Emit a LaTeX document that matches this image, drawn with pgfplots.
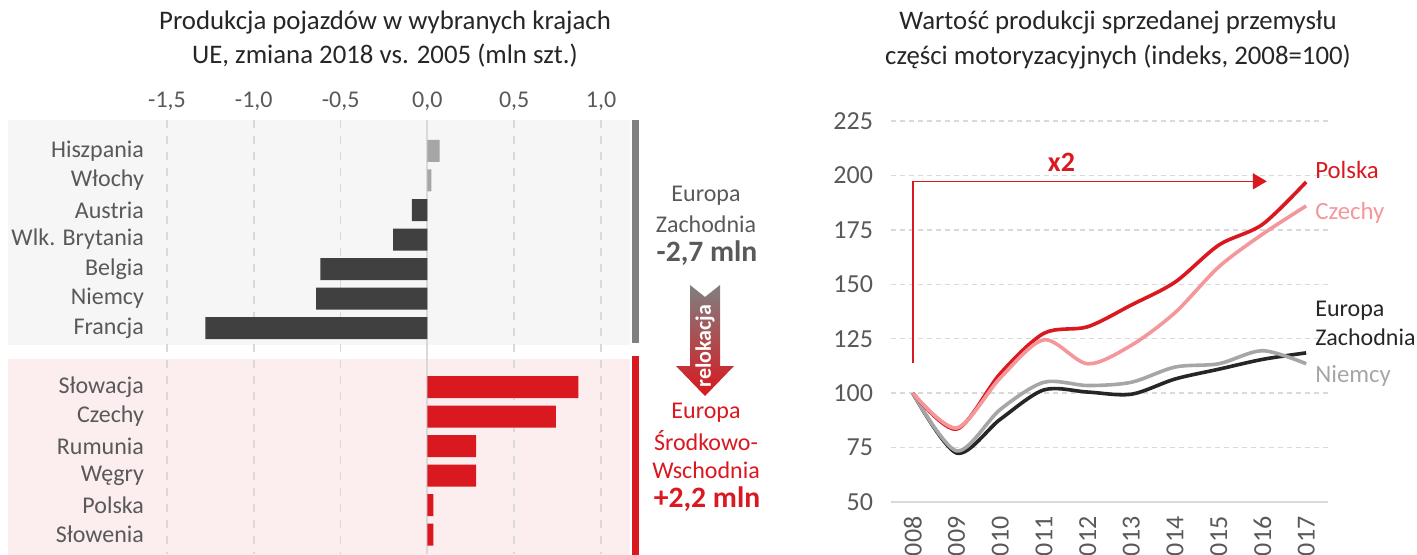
\documentclass[border=0pt]{standalone}
\usepackage{pgfplots}
\pgfplotsset{compat=1.18}
\usepackage{fontspec}
\setmainfont{Carlito}
\usetikzlibrary{arrows.meta}
\definecolor{cred}{HTML}{D9181F}
\definecolor{cpink}{HTML}{F4979B}
\definecolor{cdark}{HTML}{404040}
\definecolor{cgray}{HTML}{A6A6A6}
\definecolor{ctxt}{HTML}{595959}
\definecolor{cgrid}{HTML}{D9D9D9}
\definecolor{cbgg}{HTML}{F6F6F6}
\definecolor{cbgr}{HTML}{FCEEEE}
\definecolor{cbar}{HTML}{808080}
\definecolor{cblack}{HTML}{262626}
\begin{document}
\begin{tikzpicture}[font=\fontsize{12}{14.4}\selectfont]
\useasboundingbox (0,0) rectangle (708.5pt,277pt);
\clip (0,0) rectangle (708.5pt,277pt);
\begin{scope}[x=0.5pt,y=-0.5pt,yshift=277pt]
 \fill[cbgg] (8,120) rectangle (630,345);
 \fill[cbgr] (8,359) rectangle (630,560);
 \fill[cbar] (632,120) rectangle (639,343);
 \fill[cred] (632,356) rectangle (639,560);
 \node[text=cblack, font=\fontsize{13.4}{16}\selectfont] at (385,22) {Produkcja pojazdów w wybranych krajach};
 \node[text=cblack, font=\fontsize{13.4}{16}\selectfont] at (385,56) {UE, zmiana 2018 vs. 2005 (mln szt.)};
 \node[text=cblack, font=\fontsize{13.4}{16}\selectfont] at (1118,22) {Wartość produkcji sprzedanej przemysłu};
 \node[text=cblack, font=\fontsize{13.4}{16}\selectfont] at (1118,57) {części motoryzacyjnych (indeks, 2008=100)};
 \node[text=ctxt] at (706,196) {Europa};
 \node[text=ctxt] at (706,224) {Zachodnia};
 \node[text=ctxt, font=\bfseries\fontsize{14.8}{17}\selectfont] at (707,253) {-2,7 mln};
 \shade[top color=cbar, bottom color=cred] (690,285) -- (705,297) -- (720,285) -- (720,366) -- (734,366) -- (705,396) -- (676,366) -- (690,366) -- cycle;
 \node[rotate=90, text=white, font=\bfseries\fontsize{11}{13}\selectfont] at (705,346) {relokacja};
 \node[text=cred] at (706,413) {Europa};
 \node[text=cred] at (706,441) {Środkowo-};
 \node[text=cred] at (706,470) {Wschodnia};
 \node[text=cred, font=\bfseries\fontsize{14.8}{17}\selectfont] at (707,499) {+2,2 mln};
\end{scope}

\begin{axis}[at={(83.5pt,0pt)}, anchor=south west, scale only axis,
  width=231.5pt, height=217pt,
  xmin=-1.5, xmax=1.167, ymin=-1.05, ymax=13.66, y dir=reverse,
  xbar, bar width=11pt, bar shift=0pt, clip=false,
  axis line style={draw=none}, major tick length=0pt,
  xtick={-1.5,-1,-0.5,0,0.5,1},
  xticklabels={{-1,5},{-1,0},{-0,5},{0,0},{0,5},{1,0}},
  xticklabel pos=upper,
  ytick={0,1,2,3,4,5,6,8,9,10,11,12,13},
  yticklabels={Hiszpania,Włochy,Austria,Wlk. Brytania,Belgia,Niemcy,Francja,Słowacja,Czechy,Rumunia,Węgry,Polska,Słowenia},
  ticklabel style={text=ctxt, font=\fontsize{12}{14.4}\selectfont},
  yticklabel shift=8pt, xticklabel shift=1pt,
  xmajorgrids,
  grid style={cgrid, line width=0.75pt, dash pattern=on 4pt off 4pt}]
 \draw[cgrid, line width=1pt] (axis cs:0,-1.05) -- (axis cs:0,13.66);
 \addplot[fill=cgray, draw=none] coordinates {(0.07,0) (0.023,1)};
 \addplot[fill=cdark, draw=none] coordinates {(-0.089,2) (-0.197,3) (-0.617,4) (-0.641,5) (-1.279,6)};
 \addplot[fill=cred, draw=none] coordinates {(0.87,8) (0.74,9) (0.28,10) (0.28,11) (0.035,12) (0.035,13)};
\end{axis}

\begin{axis}[at={(445.5pt,26pt)}, anchor=south west, scale only axis,
  width=218.5pt, height=190.5pt,
  xmin=2007.5, xmax=2017.5, ymin=50, ymax=225, clip=false,
  axis line style={draw=none}, major tick length=0pt,
  ytick={50,75,100,125,150,175,200,225},
  yticklabels={50,75,100,125,150,175,200,225},
  xtick={2008,2009,2010,2011,2012,2013,2014,2015,2016,2017},
  xticklabels={2008,2009,2010,2011,2012,2013,2014,2015,2016,2017},
  xticklabel style={rotate=90, anchor=east},
  ticklabel style={text=ctxt, font=\fontsize{13}{15.6}\selectfont},
  yticklabel shift=5.5pt, xticklabel shift=3.7pt,
  ymajorgrids,
  grid style={cgrid, line width=0.75pt, dash pattern=on 2.5pt off 2pt}]
 \draw[cgrid, line width=1pt] (axis cs:2007.5,50) -- (axis cs:2017.5,50);
 \addplot[cblack, line width=1.8pt, smooth] coordinates {(2008,100) (2009,72.5) (2010,88) (2011,101.5) (2012,100.5) (2013,99.5) (2014,106.5) (2015,111) (2016,115.5) (2017,118.5)};
 \addplot[cgray, line width=1.8pt, smooth] coordinates {(2008,100) (2009,73.5) (2010,92.5) (2011,105) (2012,103.5) (2013,105) (2014,112) (2015,113.5) (2016,119.5) (2017,113.5)};
 \addplot[cred, line width=1.8pt, smooth] coordinates {(2008,100) (2009,83.5) (2010,109) (2011,127.5) (2012,130.5) (2013,140.5) (2014,151) (2015,168) (2016,177.5) (2017,197)};
 \addplot[cpink, line width=1.8pt, smooth] coordinates {(2008,100) (2009,84) (2010,107) (2011,124.5) (2012,113.5) (2013,122) (2014,137) (2015,158) (2016,173) (2017,186)};
 \draw[cred, line width=0.8pt, -{Triangle[length=7pt, width=8pt]}] (axis cs:2008,114) |- (axis cs:2016.1,197.3);
 \node[text=cred, font=\bfseries\fontsize{14}{16}\selectfont] at (axis cs:2011.4,206) {x2};
 \node[anchor=west, text=cred, inner sep=0pt, font=\fontsize{12.4}{14.4}\selectfont] at (axis cs:2017.2,202.5) {Polska};
 \node[anchor=west, text=cpink, inner sep=0pt, font=\fontsize{12.4}{14.4}\selectfont] at (axis cs:2017.2,183) {Czechy};
 \node[anchor=west, text=cblack, inner sep=0pt, align=left] at (axis cs:2017.2,132) {Europa\\Zachodnia};
 \node[anchor=west, text=cgray, inner sep=0pt, font=\fontsize{12.4}{14.4}\selectfont] at (axis cs:2017.2,108) {Niemcy};
\end{axis}
\end{tikzpicture}
\end{document}
